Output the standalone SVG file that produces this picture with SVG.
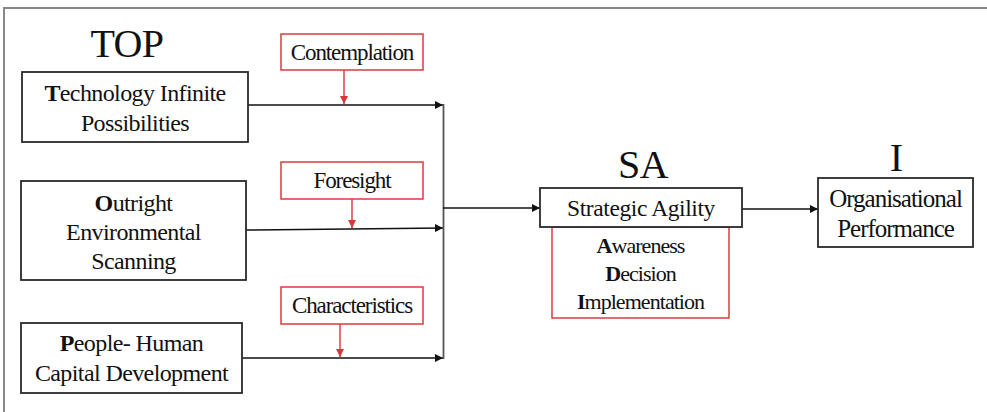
<svg xmlns="http://www.w3.org/2000/svg" width="987" height="412" viewBox="0 0 987 412" font-family="'Liberation Serif', 'Tinos', 'DejaVu Serif', serif">
<style>
text { font-family: 'Liberation Serif', 'Tinos', 'DejaVu Serif', serif; fill: #111; text-anchor: middle; }
.big { font-size: 40px; letter-spacing: -0.6px; }
.lbl { font-size: 24px; letter-spacing: -0.6px; }
.perf { font-size: 25px; letter-spacing: -1px; }
.sa { font-size: 23.5px; letter-spacing: -0.4px; }
.red-lbl { font-size: 23px; letter-spacing: -1.1px; }
.sub { font-size: 22px; letter-spacing: -0.95px; }
.box { fill: #fff; stroke: #2a2a2a; stroke-width: 1.8; }
.rbox { fill: #fff; stroke: #dc3a3f; stroke-width: 1.5; }
.conn { stroke: #111; stroke-width: 1.5; fill: none; }
.rconn { stroke: #d9363e; stroke-width: 1.4; fill: none; }
.frame { stroke: #888; stroke-width: 2; fill: none; }
.b { font-weight: bold; }
</style>
<defs>
<marker id="ah" viewBox="0 0 10 10" refX="10" refY="5" markerWidth="8" markerHeight="8" markerUnits="userSpaceOnUse" orient="auto">
<path d="M0,0 L10,5 L0,10 z" fill="#111"/>
</marker>
<marker id="rah" viewBox="0 0 10 10" refX="10" refY="5" markerWidth="8" markerHeight="8" markerUnits="userSpaceOnUse" orient="auto">
<path d="M0,0 L10,5 L0,10 z" fill="#d9363e"/>
</marker>
</defs>
<rect width="987" height="412" fill="#fff"/>
<g id="frame">
<path class="frame" d="M4,412 L4,8 L987,8"/>
</g>

<g id="connectors">
<line class="conn" x1="248" y1="105" x2="443" y2="105" marker-end="url(#ah)"/>
<line class="conn" x1="246" y1="230" x2="443" y2="228" marker-end="url(#ah)"/>
<line class="conn" x1="242" y1="358" x2="443" y2="358" marker-end="url(#ah)"/>
<line x1="443.5" y1="104" x2="443.5" y2="359" stroke="#555" stroke-width="1.8"/>
<line class="conn" x1="443" y1="208" x2="540" y2="208" marker-end="url(#ah)"/>
<line class="conn" x1="742" y1="209" x2="818" y2="209" marker-end="url(#ah)"/>
<line class="rconn" x1="344" y1="70" x2="344" y2="104" marker-end="url(#rah)"/>
<line class="rconn" x1="352" y1="199" x2="352" y2="228" marker-end="url(#rah)"/>
<line class="rconn" x1="340" y1="324" x2="340" y2="357" marker-end="url(#rah)"/>
</g>

<g id="label-top">
<text class="big" x="127" y="57">TOP</text>
</g>

<g id="node-technology">
<rect class="box" x="22" y="72" width="226" height="70"/>
<text class="lbl" x="135" y="101"><tspan class="b">T</tspan>echnology Infinite</text>
<text class="lbl" x="135" y="131">Possibilities</text>
</g>

<g id="node-outright">
<rect class="box" x="21" y="181" width="225" height="99"/>
<text class="lbl" x="133.5" y="211"><tspan class="b">O</tspan>utright</text>
<text class="lbl" x="133.5" y="240">Environmental</text>
<text class="lbl" x="133.5" y="269">Scanning</text>
</g>

<g id="node-people">
<rect class="box" x="21" y="323" width="221" height="70"/>
<text class="lbl" x="131.5" y="351"><tspan class="b">P</tspan>eople- Human</text>
<text class="lbl" x="131.5" y="381">Capital Development</text>
</g>

<g id="node-contemplation">
<rect class="rbox" x="281" y="34" width="142" height="36"/>
<text class="red-lbl" x="352" y="60">Contemplation</text>
</g>

<g id="node-foresight">
<rect class="rbox" x="281" y="162" width="142" height="37"/>
<text class="red-lbl" x="352" y="188">Foresight</text>
</g>

<g id="node-characteristics">
<rect class="rbox" x="281" y="287" width="142" height="37"/>
<text class="red-lbl" x="352" y="313">Characteristics</text>
</g>

<g id="node-strategic-agility">
<text class="big" x="643" y="178">SA</text>
<rect class="rbox" x="552" y="227" width="177" height="91"/>
<rect class="box" x="540" y="188" width="202" height="39"/>
<text class="sa" x="641" y="216">Strategic Agility</text>
<text class="sub" x="640.5" y="253"><tspan class="b">A</tspan>wareness</text>
<text class="sub" x="640.5" y="281"><tspan class="b">D</tspan>ecision</text>
<text class="sub" x="640.5" y="309"><tspan class="b">I</tspan>mplementation</text>
</g>

<g id="node-performance">
<text class="big" x="896" y="171">I</text>
<rect class="box" x="818" y="178" width="155" height="69"/>
<text class="perf" x="895.5" y="207">Organisational</text>
<text class="perf" x="895.5" y="237">Performance</text>
</g>
</svg>
